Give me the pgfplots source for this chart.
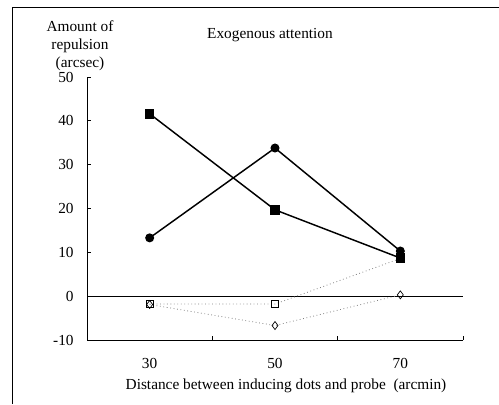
\documentclass[border=0pt]{standalone}
\usepackage{fontspec}
\setmainfont{Liberation Serif}
\usepackage{pgfplots}
\pgfplotsset{compat=1.18}
\begin{document}
\fontsize{11.5}{13.5}\selectfont
\begin{tikzpicture}
\useasboundingbox (0,0) rectangle (374.25pt,303pt);
\draw[line width=0.6pt] (9pt,0) -- (9pt,297.75pt) -- (374.25pt,297.75pt);
\begin{axis}[
  at={(65.25pt,48pt)}, anchor=south west,
  scale only axis, width=282pt, height=197.25pt,
  xmin=20, xmax=80, ymin=-10, ymax=50,
  axis lines*=left,
  axis line style={line width=0.6pt},
  tick align=inside,
  major tick length=3pt,
  tick style={line width=0.6pt, black},
  ytick={-10,0,10,20,30,40,50},
  xtick={40,60,80}, xticklabels={,,},
  extra x ticks={30,50,70}, extra x tick labels={30,50,70},
  extra x tick style={major tick length=0pt},
  xticklabel style={yshift=-10pt},
  yticklabel style={xshift=-6pt},
  /pgf/number format/assume math mode=true,
  tick label style={font=\fontsize{11.5}{13.5}\selectfont},
  clip=false,
]
\addplot[black, line width=0.6pt] coordinates {(20,0) (80,0)};
\addplot[gray, dotted, line width=0.6pt, mark=diamond, mark size=3pt, mark options={solid, black, line width=0.5pt, fill=white}] coordinates {(30,-1.9) (50,-6.7) (70,0.3)};
\addplot[gray, dotted, line width=0.6pt, mark=square, mark size=2.6pt, mark options={solid, black, line width=0.6pt, fill=white}] coordinates {(30,-1.8) (50,-1.8) (70,8.6)};
\addplot[black, line width=1.1pt, mark=*, mark size=2.8pt] coordinates {(30,13.3) (50,33.8) (70,10.3)};
\addplot[black, line width=1.1pt, mark=square*, mark size=3pt, mark options={solid}] coordinates {(30,41.6) (50,19.7) (70,8.7)};
\end{axis}
\node at (202.5pt,276.75pt) {Exogenous attention};
\node[align=center, font=\fontsize{11.5}{13.5}\selectfont] at (60pt,269pt) {Amount of\\repulsion\\(arcsec)};
\node at (214.5pt,14pt) {Distance between inducing dots and probe\ \ (arcmin)};
\end{tikzpicture}
\end{document}
